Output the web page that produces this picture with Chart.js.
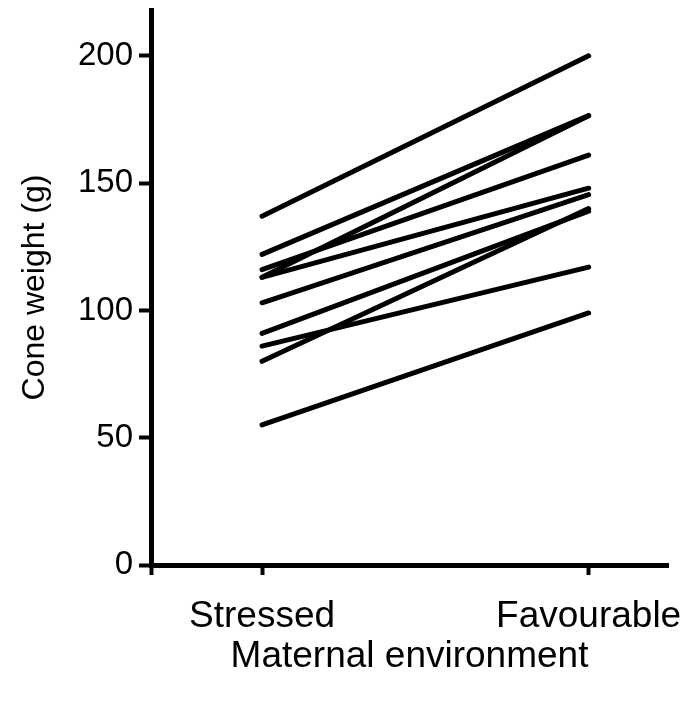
<!DOCTYPE html>
<html>
<head>
<meta charset="utf-8">
<script src="https://cdn.jsdelivr.net/npm/chart.js@4"></script>
<style>
  html, body { margin: 0; padding: 0; background: #fff; }
  #wrap { width: 685px; height: 702px; }
</style>
</head>
<body>
<div id="wrap"><canvas id="chart"></canvas></div>
<script>
// values, one line per plant
const categories = ['Stressed', 'Favourable'];
const stressed   = [137, 122, 113, 116, 113, 103, 91, 80, 86, 55];
const favourable = [200, 176.5, 176.5, 161, 148, 145.5, 139, 140, 117, 99];
const yTicks = [0, 50, 100, 150, 200];

const xMin = -0.34, xMax = 1.243;
const font = 'Liberation Sans, Arial, sans-serif';

const datasets = stressed.map((s, i) => ({
    data: [{x: 0, y: s}, {x: 1, y: favourable[i]}],
    borderColor: '#000',
    borderWidth: 5,
    borderCapStyle: 'round',
    pointRadius: 0,
    fill: false
}));

new Chart(document.getElementById('chart'), {
    type: 'line',
    data: { datasets: datasets },
    options: {
        responsive: true,
        maintainAspectRatio: false,
        animation: false,
        layout: { padding: { top: 10, right: 17, left: 0, bottom: 0 } },
        plugins: {
            legend: { display: false },
            tooltip: { enabled: false }
        },
        scales: {
            x: {
                type: 'linear',
                min: xMin,
                max: xMax,
                afterBuildTicks: (scale) => {
                    scale.ticks = [{value: xMin}, {value: 0}, {value: 1}];
                },
                afterFit: (scale) => {
                    scale.height = 137;
                    scale.paddingLeft = 0;
                    scale.paddingRight = 0;
                },
                ticks: {
                    autoSkip: false,
                    maxRotation: 0,
                    padding: 20,
                    color: '#000',
                    font: { family: font, size: 37 },
                    callback: (v) => v === 0 ? categories[0] : (v === 1 ? categories[1] : '')
                },
                grid: { drawOnChartArea: false, tickLength: 10, tickWidth: 4, tickColor: '#000' },
                border: { display: true, width: 5, color: '#000' },
                title: {
                    display: true,
                    text: 'Maternal environment',
                    color: '#000',
                    font: { family: font, size: 37 },
                    padding: { top: 0, bottom: 23 }
                }
            },
            y: {
                min: 0,
                max: 218,
                afterBuildTicks: (scale) => {
                    scale.ticks = yTicks.map(v => ({value: v}));
                },
                afterFit: (scale) => {
                    scale.width = 151;
                    scale.paddingTop = 0;
                    scale.paddingBottom = 0;
                },
                ticks: {
                    padding: 6,
                    color: '#000',
                    font: { family: font, size: 33 }
                },
                grid: { drawOnChartArea: false, tickLength: 12, tickWidth: 4, tickColor: '#000' },
                border: { display: true, width: 5, color: '#000' },
                title: {
                    display: true,
                    text: 'Cone weight (g)',
                    color: '#000',
                    font: { family: font, size: 32 },
                    padding: { top: 16, bottom: 0 }
                }
            }
        }
    }
});
</script>
</body>
</html>
